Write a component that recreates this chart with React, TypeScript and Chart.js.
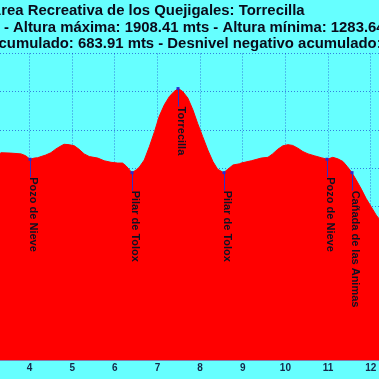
import { useEffect, useRef } from "react";
import { Chart, registerables } from "chart.js";

Chart.register(...registerables);

const titleLines = [
  "Área Recreativa de los Quejigales: Torrecilla",
  "Distancia: 13 Km - Altura máxima: 1908.41 mts - Altura mínima: 1283.64 mts",
  "Desnivel positivo acumulado: 683.91 mts - Desnivel negativo acumulado: 683.91",
];

const distanceKm = [
  0.0, 0.3, 0.6, 0.9, 1.2, 1.5, 1.8, 2.1, 2.4, 2.7, 3.0, 3.2,
  3.33, 3.56, 3.8, 3.91, 4.01, 4.11, 4.19, 4.27, 4.38, 4.5, 4.62, 4.74, 4.81, 4.93,
  5.05, 5.16, 5.28, 5.4, 5.6, 5.75, 5.91, 6.07, 6.18, 6.26, 6.4, 6.5, 6.57, 6.69,
  6.81, 6.93, 7.04, 7.16, 7.28, 7.39, 7.49, 7.59, 7.71, 7.83, 7.94, 8.06, 8.18,
  8.3, 8.41, 8.55, 8.65, 8.77, 8.92, 8.96, 9.2, 9.43, 9.59, 9.7, 9.82, 9.94,
  10.06, 10.17, 10.29, 10.41, 10.53, 10.68, 10.84, 10.98, 11.11, 11.23, 11.35,
  11.45, 11.56, 11.66, 11.78, 11.89, 12.01, 12.13, 12.22,
  12.5, 12.8, 13.1, 13.4, 13.6,
];

const altitudeM = [
  1284, 1318, 1362, 1405, 1452, 1490, 1536, 1578, 1615, 1660, 1702, 1728,
  1741, 1740, 1738, 1733, 1724, 1727, 1728, 1731, 1735, 1741, 1751, 1759, 1763, 1762,
  1759, 1750, 1738, 1731, 1727, 1720, 1716, 1714, 1714, 1707, 1689, 1696, 1703, 1722,
  1757, 1796, 1836, 1866, 1888, 1901, 1908.41, 1901, 1884, 1853, 1818, 1783, 1748,
  1718, 1698, 1689, 1698, 1709, 1712, 1714, 1720, 1727, 1729, 1738, 1750, 1759,
  1762, 1760, 1753, 1744, 1738, 1733, 1728, 1724, 1729, 1725, 1718,
  1705, 1689, 1670, 1646, 1622, 1600, 1578, 1565,
  1515, 1452, 1388, 1321, 1283.64,
];

const waypointNames = [
  "Pozo de Nieve",
  "Pilar de Tolox",
  "Torrecilla",
  "Pilar de Tolox",
  "Pozo de Nieve",
  "Cañada de las Animas",
];
const waypointKm = [4.01, 6.4, 7.49, 8.55, 10.98, 11.56];
const waypointAlt = [1724, 1689, 1908.41, 1689, 1724, 1689];

const xMin = 0;
const xMax = 14;
const xStep = 1;
const yMin = 1200;
const yMax = 2000;
const yStep = 100;

const FONT = "'Liberation Sans', Arial, sans-serif";
const CYAN = "#66ffff";
const RED = "#ff0000";
const GRID = "rgba(0, 0, 190, 0.5)";

const waypointPlugin = {
  id: "waypointLabels",
  afterDatasetsDraw(chart: any) {
    const { ctx, scales } = chart;
    const x = scales.x;
    const y = scales.y;
    ctx.save();
    waypointNames.forEach((name, i) => {
      const px = Math.round(x.getPixelForValue(waypointKm[i])) + 0.5;
      const py = y.getPixelForValue(waypointAlt[i]);
      ctx.strokeStyle = "#3030c8";
      ctx.lineWidth = 1;
      ctx.beginPath();
      ctx.moveTo(px, py);
      ctx.lineTo(px, py + 18);
      ctx.stroke();
      ctx.save();
      ctx.translate(px, py + 18);
      ctx.rotate(Math.PI / 2);
      ctx.font = `bold 11px ${FONT}`;
      ctx.fillStyle = "#111122";
      ctx.textAlign = "left";
      ctx.textBaseline = "alphabetic";
      ctx.fillText(name, 0, 1);
      ctx.restore();
      ctx.fillStyle = "#2a2ad0";
      ctx.fillRect(px - 2, py - 1.5, 3, 3);
    });
    ctx.restore();
  },
};

export default function App() {
  const ref = useRef<HTMLCanvasElement | null>(null);

  useEffect(() => {
    if (!ref.current) return;
    const chart = new Chart(ref.current, {
      type: "line",
      data: {
        datasets: [
          {
            data: distanceKm.map((d, i) => ({ x: d, y: altitudeM[i] })),
            borderColor: RED,
            borderWidth: 1,
            backgroundColor: RED,
            fill: "start",
            pointRadius: 0,
            tension: 0,
          },
        ],
      },
      options: {
        animation: false,
        responsive: false,
        layout: { padding: { left: 9, right: 10, top: 0, bottom: 0 } },
        plugins: {
          legend: { display: false },
          tooltip: { enabled: false },
          title: {
            display: true,
            text: titleLines,
            color: "#0a0a1a",
            font: { family: FONT, size: 14.9, weight: "bold", lineHeight: 1.114 },
            padding: { top: 2.5, bottom: 1.2 },
          },
        },
        scales: {
          x: {
            type: "linear",
            min: xMin,
            max: xMax,
            z: 1,
            ticks: {
              stepSize: xStep,
              autoSkip: false,
              maxRotation: 0,
              padding: 2,
              color: "#14284a",
              font: { family: FONT, size: 10, weight: "bold" },
            },
            grid: { color: GRID, drawTicks: false, lineWidth: 1 },
            border: { display: true, color: "#8878a8", width: 1, dash: [1, 2] },
            afterFit(s: any) {
              s.height = 20;
            },
          },
          y: {
            min: yMin,
            max: yMax,
            z: 1,
            ticks: { stepSize: yStep, display: false },
            grid: { color: GRID, drawTicks: false, lineWidth: 1 },
            border: { display: false, dash: [1, 2] },
            afterFit(s: any) {
              s.width = 20;
            },
          },
        },
      },
      plugins: [waypointPlugin],
    });
    return () => chart.destroy();
  }, []);

  return (
    <div
      style={{
        position: "fixed",
        left: 0,
        top: 0,
        width: 379,
        height: 379,
        overflow: "hidden",
        background: CYAN,
      }}
    >
      <canvas
        ref={ref}
        width={636}
        height={380}
        style={{ position: "absolute", left: -170, top: 0 }}
      />
    </div>
  );
}
